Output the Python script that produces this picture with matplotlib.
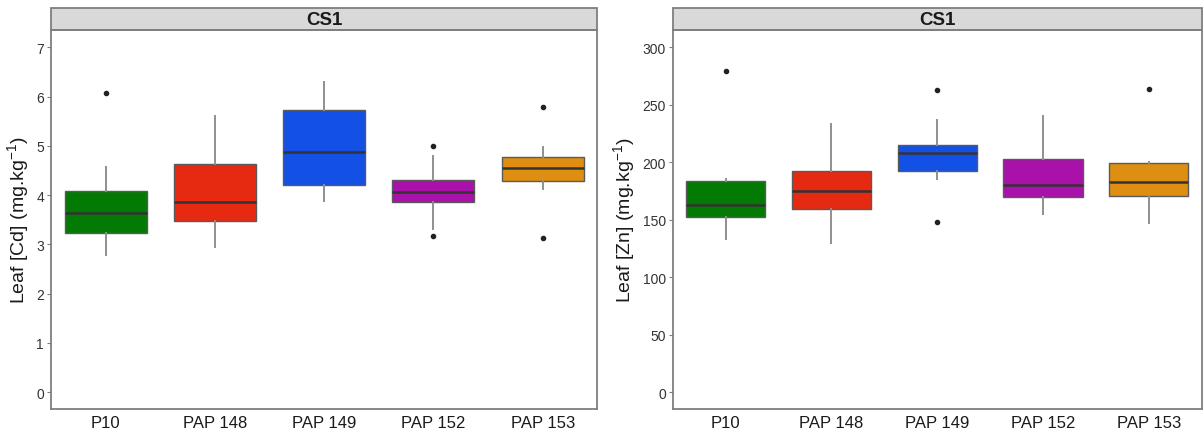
import matplotlib.pyplot as plt
from matplotlib.patches import Rectangle

plt.rcParams['font.family'] = ['Liberation Sans', 'DejaVu Sans']
plt.rcParams['mathtext.default'] = 'regular'

genotipos = ["P10", "PAP 148", "PAP 149", "PAP 152", "PAP 153"]
cores = ["#037A03", "#E62A12", "#1350E6", "#A911AA", "#DE8F12"]

# Cd foliar: (whislo, q1, med, q3, whishi), outliers
cd_cinco = [
    (2.78, 3.22, 3.63, 4.08, 4.57),
    (2.95, 3.48, 3.86, 4.64, 5.61),
    (3.87, 4.21, 4.88, 5.72, 6.30),
    (3.32, 3.86, 4.07, 4.30, 4.80),
    (4.12, 4.29, 4.54, 4.78, 4.97),
]
cd_out = [[6.08], [], [], [4.99, 3.17], [5.79, 3.13]]

# Zn foliar
zn_cinco = [
    (133.2, 152.3, 162.5, 183.7, 185.2),
    (130.0, 159.6, 175.3, 192.1, 232.8),
    (185.5, 192.7, 207.8, 214.8, 236.6),
    (155.0, 169.4, 179.9, 202.6, 240.4),
    (146.8, 170.9, 182.9, 199.7, 200.3),
]
zn_out = [[279.3], [], [263.1, 148.2], [], [263.6]]

cd_ticks = [0, 1, 2, 3, 4, 5, 6, 7]
zn_ticks = [0, 50, 100, 150, 200, 250, 300]


def painel(ax, cinco, outs, ticks, ylim, ylabel, titulo="CS1"):
    stats = []
    for (lo, q1, md, q3, hi), fl in zip(cinco, outs):
        stats.append(dict(whislo=lo, q1=q1, med=md, q3=q3, whishi=hi, fliers=fl))
    bp = ax.bxp(stats, positions=range(1, 6), widths=0.75, patch_artist=True,
                showcaps=False,
                boxprops=dict(edgecolor="#5a5a5a", linewidth=1.0),
                medianprops=dict(color="#333333", linewidth=1.8),
                whiskerprops=dict(color="#8f8f8f", linewidth=1.4),
                flierprops=dict(marker="o", markersize=3, markerfacecolor="#222222",
                                markeredgecolor="#222222"))
    for caixa, c in zip(bp["boxes"], cores):
        caixa.set_facecolor(c)
    ax.set_xlim(0.5, 5.5)
    ax.set_ylim(*ylim)
    ax.set_yticks(ticks)
    ax.set_xticks(range(1, 6))
    ax.set_xticklabels(genotipos, fontsize=12, color="#1a1a1a")
    ax.tick_params(axis="y", labelsize=10, colors="#7f7f7f", labelcolor="#333333",
                   length=3, width=0.8, pad=2)
    ax.tick_params(axis="x", length=0, pad=4)
    for sp in ax.spines.values():
        sp.set_color("#7f7f7f")
        sp.set_linewidth(1.3)
    ax.set_ylabel(ylabel, fontsize=14, color="#1a1a1a", labelpad=4)
    # faixa do facet
    faixa = Rectangle((0, 1.0), 1, 0.057, transform=ax.transAxes, clip_on=False,
                      facecolor="#D9D9D9", edgecolor="#7f7f7f", linewidth=1.3)
    ax.add_patch(faixa)
    ax.text(0.5, 1.0285, titulo, transform=ax.transAxes, ha="center", va="center",
            fontsize=13.5, fontweight="bold", color="#1a1a1a")


fig = plt.figure(figsize=(12.03, 4.35), dpi=100)
ax1 = fig.add_axes([0.0424, 0.0568, 0.4541, 0.8719])
ax2 = fig.add_axes([0.5592, 0.0568, 0.4397, 0.8719])

painel(ax1, cd_cinco, cd_out, cd_ticks, (-0.35, 7.35), r"Leaf [Cd] (mg.kg$^{-1}$)")
painel(ax2, zn_cinco, zn_out, zn_ticks, (-15, 315), r"Leaf [Zn] (mg.kg$^{-1}$)")

fig.savefig("out.png", dpi=100)
